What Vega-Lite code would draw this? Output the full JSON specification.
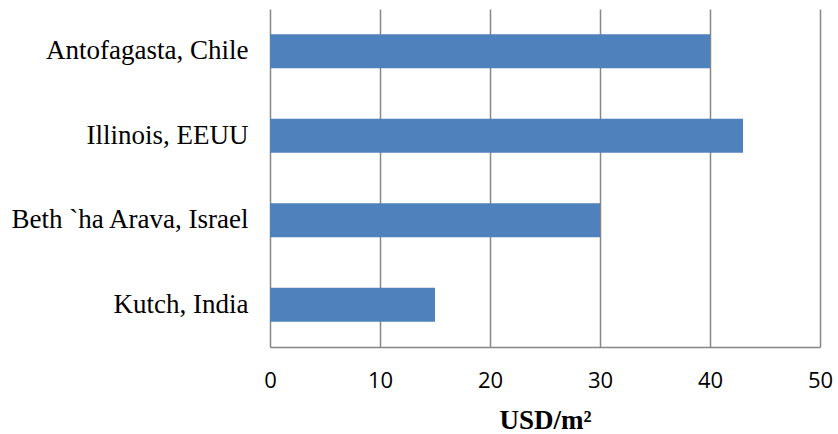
{
  "$schema": "https://vega.github.io/schema/vega-lite/v6.json",
  "width": 550,
  "height": 338,
  "autosize": {"type": "none"},
  "padding": {"left": 270, "top": 9, "right": 18, "bottom": 87},
  "background": "white",
  "data": {
    "values": [
      {"loc": "Antofagasta, Chile", "usd": 40},
      {"loc": "Illinois, EEUU", "usd": 43},
      {"loc": "Beth `ha Arava, Israel", "usd": 30},
      {"loc": "Kutch, India", "usd": 15}
    ]
  },
  "mark": {"type": "bar", "color": "#4F81BD"},
  "encoding": {
    "y": {
      "field": "loc",
      "type": "nominal",
      "sort": null,
      "scale": {"paddingInner": 0.6, "paddingOuter": 0.3},
      "axis": {
        "title": null,
        "domain": false,
        "ticks": false,
        "labelFont": "Liberation Serif",
        "labelFontSize": 27,
        "labelColor": "#000000",
        "labelPadding": 22,
        "labelLimit": 300
      }
    },
    "x": {
      "field": "usd",
      "type": "quantitative",
      "scale": {"domain": [0, 50], "nice": false},
      "axis": {
        "values": [0, 10, 20, 30, 40, 50],
        "grid": true,
        "gridColor": "#868686",
        "gridWidth": 1.5,
        "domainColor": "#868686",
        "domainWidth": 1.5,
        "ticks": false,
        "labelFlush": false,
        "labelFont": "Open Sans",
        "labelFontSize": 22,
        "labelColor": "#000000",
        "labelPadding": 23,
        "title": "USD/m²",
        "titleFont": "Liberation Serif",
        "titleFontSize": 27,
        "titleFontWeight": "bold",
        "titleColor": "#000000",
        "titlePadding": 16
      }
    }
  },
  "config": {"view": {"stroke": null}}
}
